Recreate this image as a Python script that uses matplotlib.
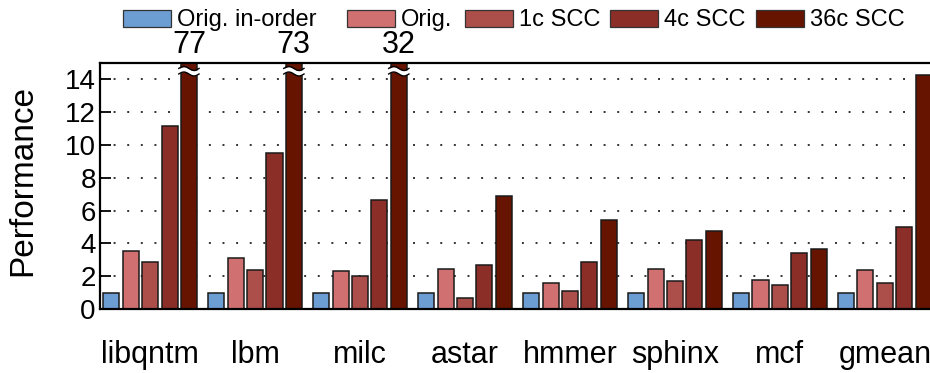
import numpy as np
import matplotlib
matplotlib.use("Agg")
import matplotlib.pyplot as plt
from matplotlib.patches import Rectangle

plt.rcParams['font.family'] = ['Liberation Sans', 'DejaVu Sans']

categories = ["libqntm", "lbm", "milc", "astar", "hmmer", "sphinx", "mcf", "gmean"]
series_names = ["Orig. in-order", "Orig.", "1c SCC", "4c SCC", "36c SCC"]
orig_inorder = [1.0, 1.0, 1.0, 1.0, 1.0, 1.0, 1.0, 1.0]
orig = [3.56, 3.09, 2.30, 2.42, 1.57, 2.42, 1.79, 2.36]
scc_1c = [2.85, 2.36, 2.03, 0.69, 1.10, 1.71, 1.49, 1.61]
scc_4c = [11.17, 9.52, 6.65, 2.67, 2.87, 4.21, 3.40, 5.00]
scc_36c = [77, 73, 32, 6.86, 5.43, 4.76, 3.66, 14.24]
colors = ["#6D9ED3", "#D07070", "#AC4F4B", "#8A2E27", "#661400"]
yticks = [0, 2, 4, 6, 8, 10, 12, 14]
ymax = 15

series = [orig_inorder, orig, scc_1c, scc_4c, scc_36c]

W, H = 930, 373
fig = plt.figure(figsize=(W / 100, H / 100), dpi=100)
ax = fig.add_axes([0.1075, 0.1716, 0.8936, 0.6595])

x = np.arange(len(categories))
step = 0.1847
width = 0.153
for j, (vals, c, name) in enumerate(zip(series, colors, series_names)):
    xs = x + (j - 2) * step
    ax.bar(xs, vals, width, color=c, edgecolor="#1a1a1a", linewidth=1.1,
           label=name, zorder=3)
    if j == 4:
        for xi, v in zip(xs, vals):
            if v > ymax:
                # break mark
                t = np.linspace(0, 1, 60)
                pad = 0.02
                xw = xi - width / 2 - pad + t * (width + 2 * pad)
                yw = 14.5 + 0.12 * np.sin(2 * np.pi * t)
                ax.plot(xw, yw + 0.17, color="black", lw=1.0, zorder=5, clip_on=False)
                ax.plot(xw, yw - 0.17, color="black", lw=1.0, zorder=5, clip_on=False)
                ax.fill_between(xw, yw - 0.15, yw + 0.15, color="white", zorder=4,
                                lw=0, clip_on=False)
                ax.text(xi, ymax + 0.2, f"{v:g}", ha="center", va="bottom",
                        fontsize=22, clip_on=False)

ax.set_ylim(0, ymax)
ax.set_xlim(-0.478, 7.44)
ax.set_yticks(yticks)
ax.set_yticklabels([str(t) for t in yticks])
ax.set_xticks(x)
ax.set_xticklabels(categories)
ax.tick_params(axis='x', length=0, pad=22, labelsize=22)
ax.tick_params(axis='y', direction='in', length=8, width=1.3, pad=3,
               labelsize=20, right=True)
ax.set_ylabel("Performance", fontsize=24)
ax.yaxis.set_label_coords(-0.074, 0.524)

for yt in yticks[1:]:
    ax.axhline(yt, color="#333333", lw=1.4, ls=(0, (1, 6)), zorder=1)

for s in ax.spines.values():
    s.set_linewidth(1.6)
    s.set_zorder(6)

# legend laid out as in the reference (positions in pixels)
handle_left = [123, 347, 465, 610, 756]
hw, hy0, hy1 = 48, 10, 27
for name, c, hx in zip(series_names, colors, handle_left):
    fig.patches.append(Rectangle((hx / W, 1 - hy1 / H), hw / W, (hy1 - hy0) / H,
                                 transform=fig.transFigure, facecolor=c,
                                 edgecolor="#333333", linewidth=0.9))
    fig.text((hx + hw + 6) / W, 1 - (hy0 + hy1) / 2 / H - 0.004, name,
             ha="left", va="center", fontsize=17)

fig.savefig("out.png", dpi=100)
